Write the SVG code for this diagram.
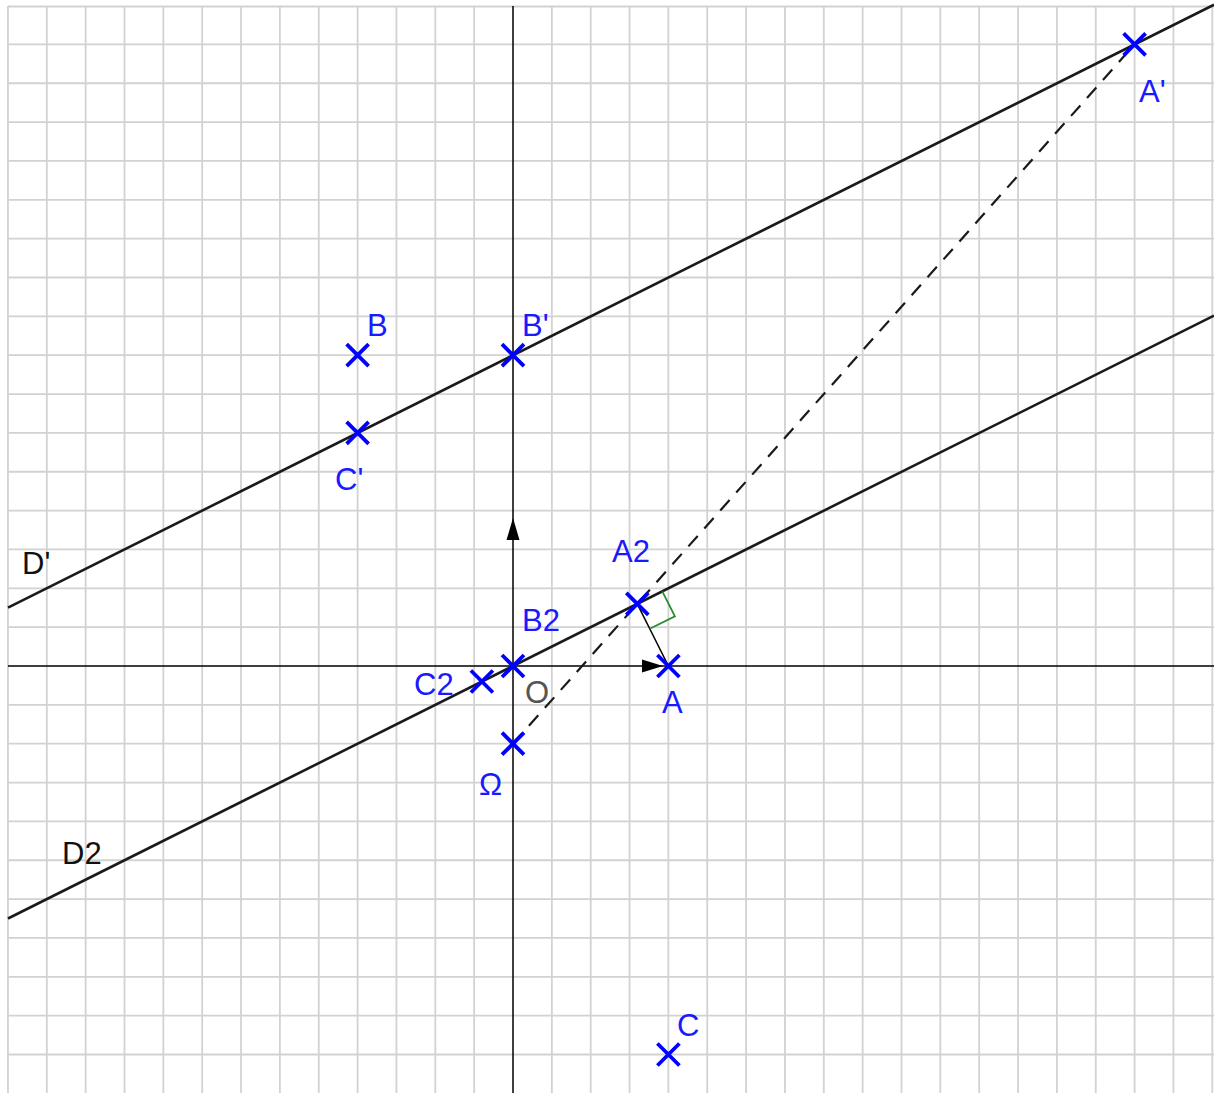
<svg xmlns="http://www.w3.org/2000/svg" xmlns:xlink="http://www.w3.org/1999/xlink" width="1214" height="1093" viewBox="0 0 1214 1093">
<style>
.grid{stroke:#d2d2d2;stroke-width:1.8;fill:none}
.axis{stroke:#000;stroke-width:1.5;fill:none}
.line{stroke:#1a1a1a;stroke-width:2.6;fill:none}
.dash{stroke:#1a1a1a;stroke-width:2.2;fill:none;stroke-dasharray:14,10}
.pt{stroke:#0000ff;stroke-width:3.8;fill:none}
.lbl{font-family:"Liberation Sans",Arial,sans-serif;font-size:31px;fill:#1a1aff}
.blk{font-family:"Liberation Sans",Arial,sans-serif;font-size:31px;fill:#111}
.o{font-family:"Liberation Sans",Arial,sans-serif;font-size:31px;fill:#555}
</style>
<defs>
<path id="x" d="M-11,-11L11,11M11,-11L-11,11"/>
</defs>
<rect width="1214" height="1093" fill="#fff"/>
<g id="grid">
<path class="grid" d="M7.95,6V1093M46.8,6V1093M85.65,6V1093M124.5,6V1093M163.35,6V1093M202.2,6V1093M241.05,6V1093M279.9,6V1093M318.75,6V1093M357.6,6V1093M396.45,6V1093M435.3,6V1093M474.15,6V1093M551.85,6V1093M590.7,6V1093M629.55,6V1093M668.4,6V1093M707.25,6V1093M746.1,6V1093M784.95,6V1093M823.8,6V1093M862.65,6V1093M901.5,6V1093M940.35,6V1093M979.2,6V1093M1018.05,6V1093M1056.9,6V1093M1095.75,6V1093M1134.6,6V1093M1173.45,6V1093M1212.3,6V1093"/>
<path class="grid" d="M8,6.5H1214M8,44.4H1214M8,83.25H1214M8,122.1H1214M8,160.95H1214M8,199.8H1214M8,238.65H1214M8,277.5H1214M8,316.35H1214M8,355.2H1214M8,394.05H1214M8,432.9H1214M8,471.75H1214M8,510.6H1214M8,549.45H1214M8,588.3H1214M8,627.15H1214M8,704.85H1214M8,743.7H1214M8,782.55H1214M8,821.4H1214M8,860.25H1214M8,899.1H1214M8,937.95H1214M8,976.8H1214M8,1015.65H1214M8,1054.5H1214"/>
</g>
<g id="connectors">
<path class="axis" d="M8,666H1214M513,6V1093"/>
<path d="M513,518L519.5,540H506.5Z" fill="#000"/>
<path d="M663,666L642,659.5V672.5Z" fill="#000"/>
<path class="line" id="Dprime" d="M8,607.7L1214,4.7"/>
<path class="line" id="D2line" d="M8,918.5L1214,315.6"/>
<path class="dash" d="M513,743.7L1134.6,44.4"/>
<path d="M637.3,603.8L668.4,666" stroke="#000" stroke-width="1.5" fill="none"/>
<polyline points="662.3,591.3 674.9,616.3 649.8,628.8" stroke="#2e8b2e" stroke-width="1.8" fill="none"/>
</g>
<g id="A"><use href="#x" class="pt" x="668.4" y="666"/><text class="lbl" x="662" y="713">A</text></g>
<g id="Aprime"><use href="#x" class="pt" x="1134.6" y="44.4"/><text class="lbl" x="1139" y="102">A'</text></g>
<g id="B"><use href="#x" class="pt" x="357.6" y="355.2"/><text class="lbl" x="367" y="336">B</text></g>
<g id="Bprime"><use href="#x" class="pt" x="513" y="355.2"/><text class="lbl" x="522" y="336">B'</text></g>
<g id="Cprime"><use href="#x" class="pt" x="357.6" y="432.9"/><text class="lbl" x="335" y="490">C'</text></g>
<g id="C"><use href="#x" class="pt" x="668.4" y="1054.5"/><text class="lbl" x="677" y="1036">C</text></g>
<g id="Omega"><use href="#x" class="pt" x="513" y="743.7"/><text class="lbl" x="479" y="795">Ω</text></g>
<g id="B2"><use href="#x" class="pt" x="513" y="666"/><text class="lbl" x="522" y="631">B2</text></g>
<g id="C2"><use href="#x" class="pt" x="481.9" y="681.5"/><text class="lbl" x="414" y="695">C2</text></g>
<g id="A2"><use href="#x" class="pt" x="637.3" y="603.8"/><text class="lbl" x="612" y="562">A2</text></g>
<g id="O"><text class="o" x="525" y="703">O</text></g>
<g id="Dp"><text class="blk" x="22" y="574">D'</text></g>
<g id="D2"><text class="blk" x="62" y="864">D2</text></g>
</svg>
